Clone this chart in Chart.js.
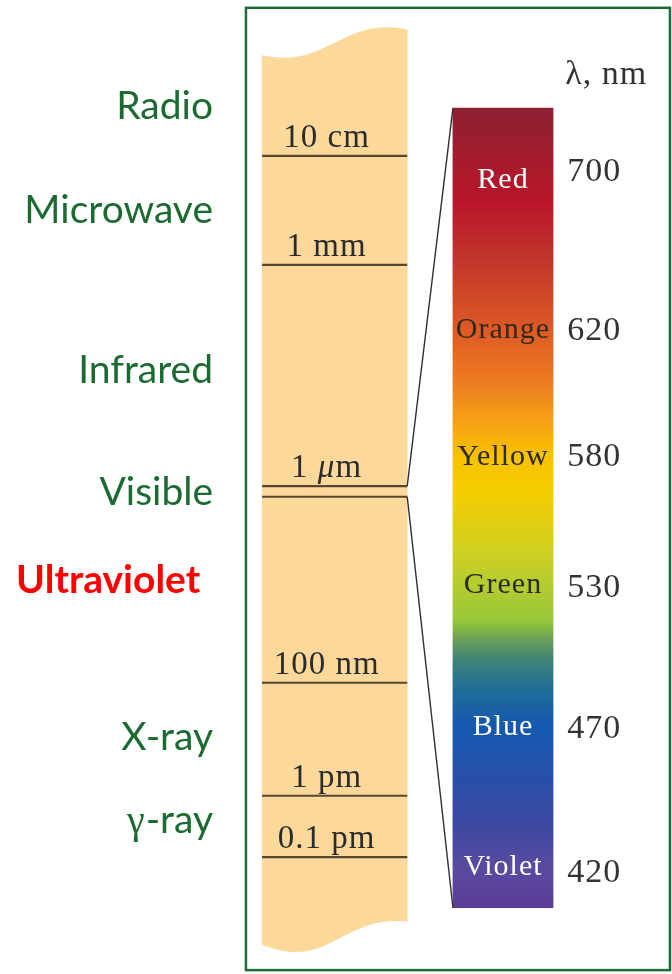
<!DOCTYPE html>
<html>
<head>
<meta charset="utf-8">
<script src="https://cdn.jsdelivr.net/npm/chart.js@4.4.1/dist/chart.umd.min.js"></script>
<style>
    html, body { margin: 0; padding: 0; background: #fff; }
    canvas { display: block; }
</style>
</head>
<body>
<canvas id="spectrum" width="672" height="974"></canvas>
<script>
// Vertical positions on a 0..100 scale (0 = top edge)
const regionNames = ['Radio', 'Microwave', 'Infrared', 'Visible', 'Ultraviolet', 'X-ray', 'γ-ray'];
const regionLevels = [12.2, 22.9, 39.3, 51.8, 60.9, 77.0, 85.5];

const bandTicks = ['10 cm', '1 mm', '1 μm', '100 nm', '1 pm', '0.1 pm'];
const bandLevels = [16.0, 27.2, 49.9, 70.1, 81.7, 88.0];
const visibleBand = [49.9, 51.0];

const colorNames = ['Red', 'Orange', 'Yellow', 'Green', 'Blue', 'Violet'];
const colorNameLevels = [18.5, 33.9, 46.9, 60.1, 74.7, 89.0];
const wavelengthsNm = [700, 620, 580, 530, 470, 420];
const wavelengthLevels = [17.7, 34.0, 46.9, 60.4, 74.9, 89.6];

const stripRange = [2.7, 97.8];
const spectrumRange = [11.1, 93.2];

// colour of the visible band at each level
const gradientLevels = [11.1, 18.5, 20.5, 25.7, 30.8, 33.9, 39.0, 43.1, 46.9, 50.3, 56.5, 60.1, 63.7, 65.7, 67.8, 70.8, 74.7, 80.1, 85.2, 89.0, 93.2];
const gradientColors = ['#8a2232', '#b0182a', '#b8142a', '#c0302a', '#d04a28', '#de5a26', '#ec7a22', '#f5a015', '#f8c200', '#f5cc00', '#d0d020', '#b4cc30', '#98c83a', '#6a9e58', '#3f8478', '#206c98', '#1458b0', '#2a4ea8', '#3e48a0', '#5a4aa0', '#5a3c98'];

// horizontal layout (0..100 of the width)
const X = {
    strip: [39.0, 60.6],
    spectrum: [67.4, 82.3],
    regionRight: 31.7,
    uvRight: 29.8,
    tickCenter: 48.6,
    nmLeft: 84.4,
    frame: [36.6, 99.7],
    frameY: [0.8, 99.6],
    titleLevel: 8.6
};
const W = 672;
const mid = r => (r[0] + r[1]) / 2;
const widthPx = r => (r[1] - r[0]) * W / 100;

// các vạch ngang trên dải bước sóng
const tickLineData = [];
bandLevels.concat([visibleBand[1]]).forEach(l => {
    tickLineData.push({x: X.strip[0], y: l}, {x: X.strip[1], y: l}, {x: X.strip[1], y: null});
});
const connectorData = [
    {x: X.strip[1], y: visibleBand[0]}, {x: X.spectrum[0], y: spectrumRange[0]}, {x: X.spectrum[0], y: null},
    {x: X.strip[1], y: visibleBand[1]}, {x: X.spectrum[0], y: spectrumRange[1]}
];

function spectrumGradient(ctx) {
    const chart = ctx.chart;
    const y = chart.scales.y;
    if (!chart.chartArea || !y) return gradientColors[0];
    const top = y.getPixelForValue(spectrumRange[0]);
    const bottom = y.getPixelForValue(spectrumRange[1]);
    const g = chart.ctx.createLinearGradient(0, top, 0, bottom);
    gradientLevels.forEach((l, i) => {
        const f = (l - spectrumRange[0]) / (spectrumRange[1] - spectrumRange[0]);
        g.addColorStop(Math.min(1, Math.max(0, f)), gradientColors[i]);
    });
    return g;
}

function drawMixed(ctx, text, xPos, yPos, align, baseFont, italicFont) {
    // vẽ chữ, ký tự μ in nghiêng
    const parts = [];
    for (const ch of text) {
        const it = ch === 'μ';
        if (parts.length && parts[parts.length - 1].it === it) parts[parts.length - 1].t += ch;
        else parts.push({t: ch, it: it});
    }
    let total = 0;
    parts.forEach(p => { ctx.font = p.it ? italicFont : baseFont; p.w = ctx.measureText(p.t).width; total += p.w; });
    let cx = align === 'center' ? xPos - total / 2 : xPos;
    ctx.textAlign = 'left';
    parts.forEach(p => { ctx.font = p.it ? italicFont : baseFont; ctx.fillText(p.t, cx, yPos); cx += p.w; });
}

const figurePlugin = {
    id: 'figurePlugin',
    afterDatasetsDraw(chart) {
        const {ctx, scales: {x, y}} = chart;
        const el = chart.getDatasetMeta(0).data[0];
        const L = el.x - el.width / 2, R = el.x + el.width / 2, w = R - L;
        const top = Math.min(el.y, el.base), bottom = Math.max(el.y, el.base);

        ctx.save();
        // wavy ends of the strip
        ctx.fillStyle = '#ffffff';
        let y0 = top + 29, amp = 26;
        ctx.beginPath();
        ctx.moveTo(L - 1, top - 2);
        ctx.lineTo(L - 1, y0);
        ctx.lineTo(L, y0);
        ctx.bezierCurveTo(L + 0.45 * w, y0 + 0.55 * amp, L + 0.55 * w, y0 - 1.5 * amp, R, y0 - amp);
        ctx.lineTo(R + 1, y0 - amp);
        ctx.lineTo(R + 1, top - 2);
        ctx.closePath();
        ctx.fill();

        y0 = bottom - 8; amp = 23;
        ctx.beginPath();
        ctx.moveTo(L - 1, bottom + 2);
        ctx.lineTo(L - 1, y0);
        ctx.lineTo(L, y0);
        ctx.bezierCurveTo(L + 0.45 * w, y0 + 1.2 * amp, L + 0.55 * w, y0 - 1.3 * amp, R, y0 - amp);
        ctx.lineTo(R + 1, y0 - amp);
        ctx.lineTo(R + 1, bottom + 2);
        ctx.closePath();
        ctx.fill();

        // wavelength labels on the strip
        ctx.fillStyle = '#2b2b2b';
        ctx.textBaseline = 'alphabetic';
        ctx.letterSpacing = '1px';
        bandTicks.forEach((t, i) => {
            drawMixed(ctx, t, x.getPixelForValue(X.tickCenter), y.getPixelForValue(bandLevels[i]) - 9,
                'center', '33px "Liberation Serif"', 'italic 33px "Liberation Serif"');
        });

        // colour names inside the visible band
        ctx.letterSpacing = '1px';
        ctx.textAlign = 'center';
        ctx.textBaseline = 'middle';
        ctx.font = '30px "Liberation Serif"';
        const darkInk = ['Orange', 'Yellow', 'Green'];
        colorNames.forEach((n, i) => {
            ctx.fillStyle = darkInk.includes(n) ? '#2e2a1e' : '#ffffff';
            ctx.fillText(n, x.getPixelForValue(mid(X.spectrum)), y.getPixelForValue(colorNameLevels[i]));
        });

        // nm values
        ctx.fillStyle = '#333333';
        ctx.textAlign = 'left';
        ctx.font = '34px "Liberation Serif"';
        wavelengthsNm.forEach((v, i) => {
            ctx.fillText(String(v), x.getPixelForValue(X.nmLeft), y.getPixelForValue(wavelengthLevels[i]));
        });
        ctx.textBaseline = 'alphabetic';
        ctx.font = '34px "Liberation Serif"';
        ctx.fillText('λ, nm', x.getPixelForValue(X.nmLeft) - 2, y.getPixelForValue(X.titleLevel));

        // region names
        ctx.letterSpacing = '0px';
        regionNames.forEach((n, i) => {
            const yy = y.getPixelForValue(regionLevels[i]);
            if (n === 'Ultraviolet') {
                ctx.font = 'bold 39px Lato';
                ctx.fillStyle = '#ff0000';
                ctx.textAlign = 'right';
                ctx.fillText(n, x.getPixelForValue(X.uvRight), yy);
                return;
            }
            ctx.fillStyle = '#1b6a31';
            const right = x.getPixelForValue(X.regionRight);
            if (n.startsWith('γ')) {
                ctx.font = '39px Lato';
                ctx.textAlign = 'right';
                const rest = n.slice(1);
                ctx.fillText(rest, right, yy);
                const rw = ctx.measureText(rest).width;
                ctx.font = '40px "Liberation Serif"';
                ctx.fillText('γ', right - rw - 1, yy);
                return;
            }
            ctx.font = '39px Lato';
            ctx.textAlign = 'right';
            ctx.fillText(n, right, yy);
        });
        ctx.restore();
    },
    afterDraw(chart) {
        const {ctx, scales: {x, y}} = chart;
        ctx.save();
        ctx.strokeStyle = '#1d6b38';
        ctx.lineWidth = 2.5;
        const x0 = x.getPixelForValue(X.frame[0]), x1 = x.getPixelForValue(X.frame[1]);
        const y0 = y.getPixelForValue(X.frameY[0]), y1 = y.getPixelForValue(X.frameY[1]);
        ctx.strokeRect(x0, y0, x1 - x0, y1 - y0);
        ctx.restore();
    }
};

new Chart(document.getElementById('spectrum'), {
    type: 'bar',
    data: {
        datasets: [
            {
                type: 'bar',
                label: 'strip',
                data: [{x: mid(X.strip), y: stripRange}],
                backgroundColor: '#fdd89b',
                barThickness: widthPx(X.strip),
                grouped: false,
                order: 3
            },
            {
                type: 'bar',
                label: 'visible',
                data: [{x: mid(X.spectrum), y: spectrumRange}],
                backgroundColor: spectrumGradient,
                barThickness: widthPx(X.spectrum),
                grouped: false,
                order: 2
            },
            {
                type: 'line',
                label: 'ticks',
                data: tickLineData,
                borderColor: '#564630',
                borderWidth: 2.2,
                pointRadius: 0,
                spanGaps: false,
                tension: 0,
                order: 1
            },
            {
                type: 'line',
                label: 'connectors',
                data: connectorData,
                borderColor: '#2f2f2f',
                borderWidth: 1.4,
                pointRadius: 0,
                spanGaps: false,
                tension: 0,
                order: 0
            }
        ]
    },
    options: {
        responsive: false,
        animation: false,
        events: [],
        layout: { padding: 0 },
        scales: {
            x: { type: 'linear', min: 0, max: 100, display: false, offset: false },
            y: { type: 'linear', min: 0, max: 100, reverse: true, display: false }
        },
        plugins: {
            legend: { display: false },
            tooltip: { enabled: false }
        }
    },
    plugins: [figurePlugin]
});
</script>
</body>
</html>
